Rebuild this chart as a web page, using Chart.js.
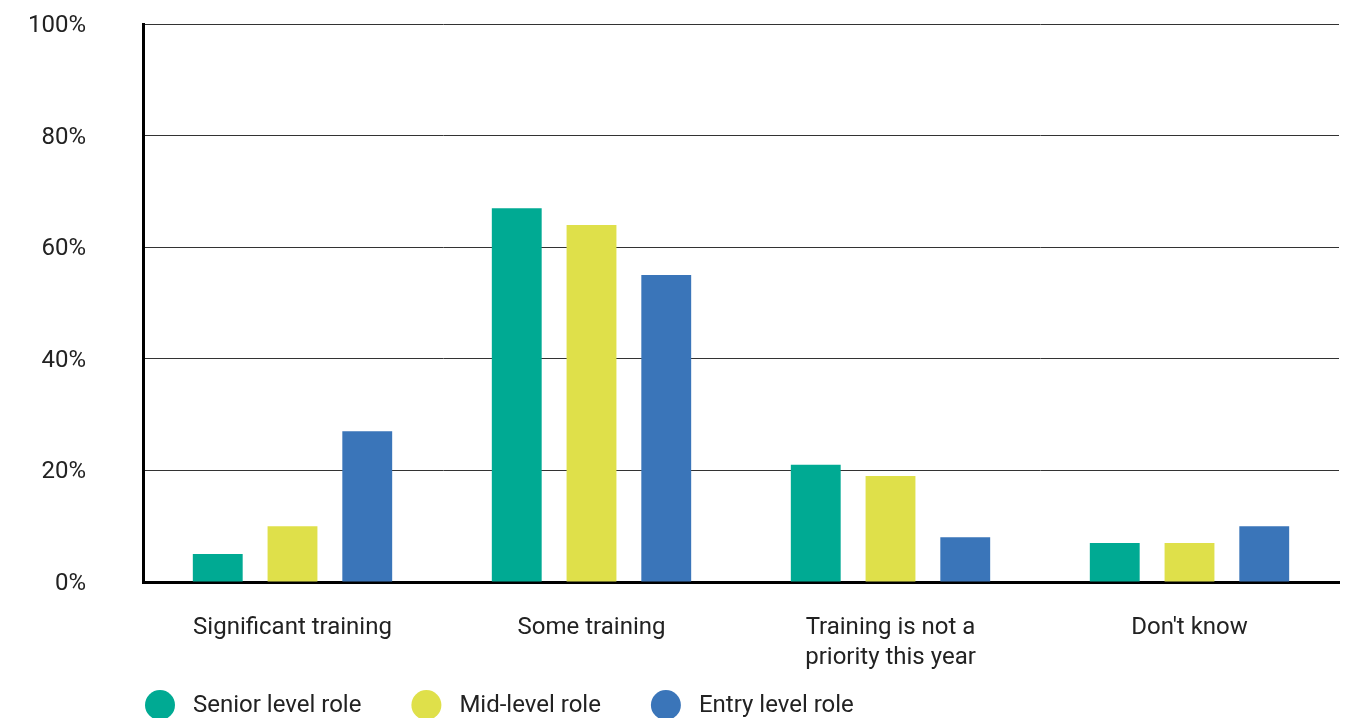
<!DOCTYPE html>
<html>
<head>
<meta charset="utf-8">
<script src="https://cdn.jsdelivr.net/npm/chart.js@4.4.1/dist/chart.umd.min.js"></script>
<style>
  html, body { margin: 0; padding: 0; background: #fff; }
  #wrap { width: 1352px; height: 718px; position: relative; }
</style>
</head>
<body>
<div id="wrap"><canvas id="chart"></canvas></div>
<script>
// Categorías y series (% de respuestas)
const categories = ["Significant training", "Some training", ["Training is not a", "priority this year"], "Don't know"];
const seriesNames = ["Senior level role", "Mid-level role", "Entry level role"];
const seniorValues = [5, 67, 21, 7];
const midValues    = [10, 64, 19, 7];
const entryValues  = [27, 55, 8, 10];
const seriesColors = ["#00AA93", "#DFE04A", "#3A75B9"];
const yTicks = [0, 20, 40, 60, 80, 100];

const FONT = "Roboto, 'Noto Sans', sans-serif";
const FS = 24;
const TXT = "#222";

// Leyenda dibujada a mano: círculo + texto, alineada con el eje
const circleLegend = {
  id: "circleLegend",
  afterDraw(chart) {
    const ctx = chart.ctx;
    const y = 705;
    let x = 145;
    ctx.save();
    ctx.font = FS + "px " + FONT;
    ctx.textBaseline = "middle";
    ctx.textAlign = "left";
    chart.data.datasets.forEach(ds => {
      ctx.fillStyle = ds.backgroundColor;
      ctx.beginPath();
      ctx.arc(x + 15, y, 15, 0, Math.PI * 2);
      ctx.fill();
      ctx.fillStyle = TXT;
      ctx.fillText(ds.label, x + 48, y + 1);
      x += 48 + ctx.measureText(ds.label).width + 50;
    });
    ctx.restore();
  }
};

const values = [seniorValues, midValues, entryValues];

new Chart(document.getElementById("chart"), {
  type: "bar",
  data: {
    labels: categories,
    datasets: seriesNames.map((name, i) => ({
      label: name,
      data: values[i],
      backgroundColor: seriesColors[i],
      barPercentage: 0.667,
      categoryPercentage: 0.75
    }))
  },
  options: {
    responsive: true,
    maintainAspectRatio: false,
    animation: false,
    layout: { padding: { left: 30, right: 13, top: 24, bottom: 36 } },
    plugins: {
      legend: { display: false },
      tooltip: { enabled: false }
    },
    scales: {
      x: {
        grid: { display: false, drawTicks: false },
        border: { display: true, color: "#000", width: 3 },
        ticks: {
          color: TXT,
          font: { family: FONT, size: FS, lineHeight: 30 / FS },
          padding: 31,
          maxRotation: 0,
          autoSkip: false
        },
        afterFit: axis => {
          axis.height = 100;
          axis.paddingLeft = 0;
          axis.paddingRight = 0;
        }
      },
      y: {
        min: 0,
        max: 100,
        afterBuildTicks: axis => { axis.ticks = yTicks.map(v => ({ value: v })); },
        grid: { color: "#333", lineWidth: 1, drawTicks: false },
        border: { display: true, color: "#000", width: 3 },
        ticks: {
          color: TXT,
          font: { family: FONT, size: FS },
          padding: 57,
          labelOffset: 2,
          callback: v => v + "%"
        },
        afterFit: axis => {
          axis.width = 113;
          axis.paddingTop = 0;
          axis.paddingBottom = 0;
        }
      }
    }
  },
  plugins: [circleLegend]
});
</script>
</body>
</html>
